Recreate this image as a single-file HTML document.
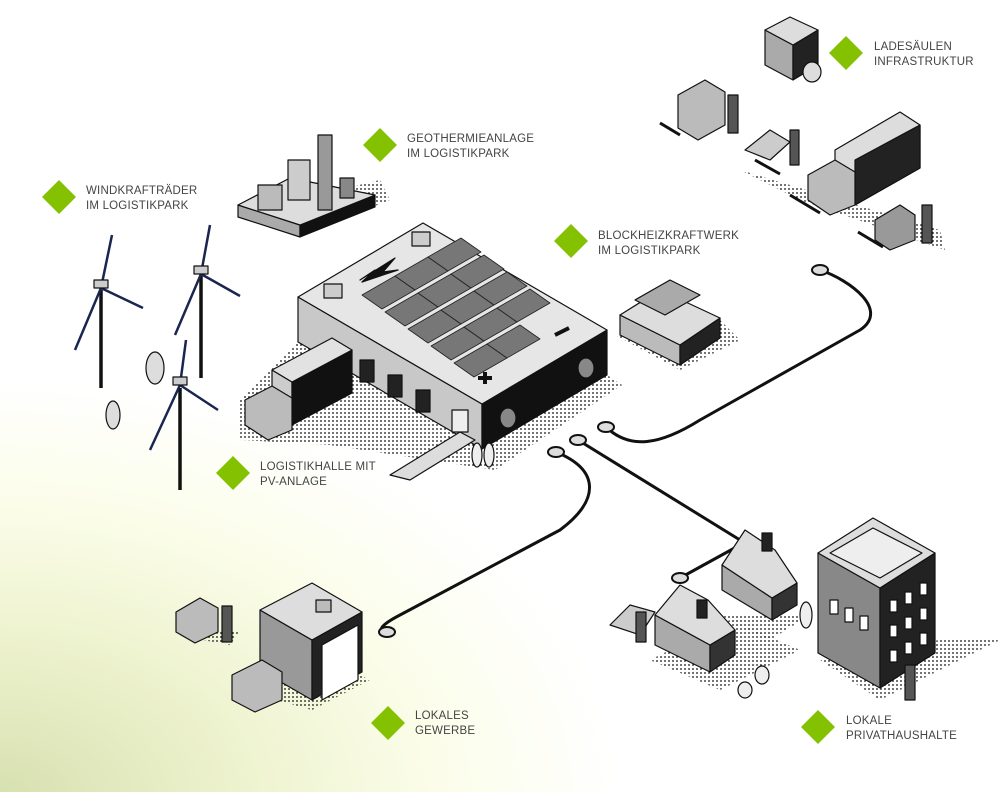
<!DOCTYPE html>
<html><head><meta charset="utf-8"><style>
html,body{margin:0;padding:0;}
body{width:1004px;height:792px;overflow:hidden;background:#fff;}
.bg{position:absolute;left:0;top:0;width:1004px;height:792px;background:radial-gradient(ellipse 620px 420px at 0px 800px,#d7e0b0 0%,#eef3cf 40%,#fbfde9 70%,rgba(255,255,255,0) 100%);}
svg{position:absolute;left:0;top:0;}
text{font-family:"Liberation Sans",sans-serif;font-size:11.5px;fill:#444;letter-spacing:0.2px;}
</style></head><body>
<div class="bg"></div>
<svg width="1004" height="792" viewBox="0 0 1004 792">
<defs>
<pattern id="d" width="4" height="4" patternUnits="userSpaceOnUse"><circle cx="1" cy="1" r="0.9" fill="#111"/></pattern>
</defs>
<g stroke="#111" stroke-width="1.2" stroke-linejoin="round">
<!-- shadows -->
<polygon points="298,342 482,449 607,375 622,385 495,470 330,445 240,440 240,400" fill="url(#d)" stroke="none"/>
<polygon points="235,215 300,235 390,200 380,180" fill="url(#d)" stroke="none"/>
<polygon points="615,335 680,370 740,340 720,320" fill="url(#d)" stroke="none"/>
<polygon points="740,170 940,230 945,250 800,200" fill="url(#d)" stroke="none"/>
<polygon points="820,660 880,700 1000,640 940,640" fill="url(#d)" stroke="none"/>
<polygon points="650,660 720,690 800,650 730,620" fill="url(#d)" stroke="none"/>
<polygon points="720,615 770,640 810,615" fill="url(#d)" stroke="none"/>
<polygon points="240,690 312,710 370,680 330,660" fill="url(#d)" stroke="none"/>
<polygon points="175,635 230,645 240,630" fill="url(#d)" stroke="none"/>

<!-- cables -->
<g fill="none" stroke="#111" stroke-width="3">
<path d="M606,427 C630,450 660,445 700,420 L860,330 C890,310 850,280 820,270"/>
<path d="M578,440 L740,540"/>
<path d="M556,452 C600,470 600,500 560,530 L400,615 C375,628 380,632 387,632"/>
<path d="M680,578 L740,545"/>
</g>
<g fill="#ddd" stroke="#111" stroke-width="2">
<ellipse cx="820" cy="270" rx="8" ry="5"/><ellipse cx="606" cy="427" rx="8" ry="5"/>
<ellipse cx="578" cy="440" rx="8" ry="5"/><ellipse cx="556" cy="452" rx="8" ry="5"/>
<ellipse cx="387" cy="632" rx="8" ry="5"/><ellipse cx="680" cy="578" rx="8" ry="5"/>
</g>

<!-- warehouse -->
<polygon points="298,297 482,404 482,449 298,342" fill="#c8c8c8"/>
<polygon points="482,404 607,330 607,375 482,449" fill="#111"/>
<polygon points="298,297 423,223 607,330 482,404" fill="#e6e6e6"/>
<g fill="#777" stroke="#222" stroke-width="0.8">
<polygon points="362,295 395,276 415,290 382,309"/><polygon points="395,276 428,257 448,271 415,290"/><polygon points="428,257 461,238 481,252 448,271"/>
<polygon points="385,312 418,293 438,307 405,326"/><polygon points="418,293 451,274 471,288 438,307"/><polygon points="451,274 484,255 504,269 471,288"/>
<polygon points="408,329 441,310 461,324 428,343"/><polygon points="441,310 474,291 494,305 461,324"/><polygon points="474,291 507,272 527,286 494,305"/>
<polygon points="431,346 464,327 484,341 451,360"/><polygon points="464,327 497,308 517,322 484,341"/><polygon points="497,308 530,289 550,303 517,322"/>
<polygon points="454,363 487,344 507,358 474,377"/><polygon points="487,344 520,325 540,339 507,358"/>
</g>
<polygon points="360,280 395,258 383,272 398,270 362,282 375,270" fill="#111"/>
<rect x="324" y="284" width="18" height="14" fill="#ccc"/><rect x="412" y="232" width="18" height="14" fill="#ccc"/>
<path d="M478,378 h14 M485,372 v12" stroke="#111" stroke-width="4"/>
<path d="M555,335 l14,-7" stroke="#111" stroke-width="4"/>
<ellipse cx="508" cy="418" rx="8" ry="10" fill="#888"/><ellipse cx="586" cy="368" rx="8" ry="10" fill="#888"/>
<g fill="#222"><rect x="360" y="360" width="14" height="22"/><rect x="388" y="375" width="14" height="22"/><rect x="416" y="390" width="14" height="22"/></g>
<rect x="452" y="410" width="16" height="22" fill="#eee"/>
<polygon points="390,475 460,432 475,440 410,480" fill="#ddd"/>
<!-- truck -->
<polygon points="272,370 292,382 292,425 272,413" fill="#ccc"/>
<polygon points="292,382 352,350 352,393 292,425" fill="#111"/>
<polygon points="272,370 332,338 352,350 292,382" fill="#e2e2e2"/>
<polygon points="245,400 272,386 292,398 292,430 268,440 245,425" fill="#bbb"/>
<text x="322" y="372" style="font-size:7px;fill:#ddd" transform="rotate(-28 322 372)">logistics</text>

<!-- turbines -->
<g stroke="#111" stroke-width="3.5"><line x1="101" y1="290" x2="101" y2="388"/><line x1="201" y1="276" x2="201" y2="378"/><line x1="180" y1="388" x2="180" y2="490"/></g>
<g stroke="#1a2650" stroke-width="2.5" fill="none">
<path d="M101,288 L112,235 M101,288 L75,350 M101,288 L143,308"/>
<path d="M201,274 L210,225 M201,274 L175,335 M201,274 L240,296"/>
<path d="M180,385 L186,340 M180,385 L150,450 M180,385 L218,410"/>
</g>
<g fill="#ccc"><rect x="94" y="280" width="14" height="8"/><rect x="194" y="266" width="14" height="8"/><rect x="173" y="377" width="14" height="8"/></g>
<ellipse cx="155" cy="368" rx="9" ry="16" fill="#ddd"/><ellipse cx="113" cy="415" rx="7" ry="14" fill="#ddd"/>
<ellipse cx="477" cy="455" rx="5" ry="12" fill="#eee"/><ellipse cx="489" cy="455" rx="5" ry="12" fill="#eee"/>

<!-- geothermie -->
<polygon points="238,205 300,225 300,237 238,217" fill="#aaa"/>
<polygon points="300,225 375,195 375,207 300,237" fill="#111"/>
<polygon points="238,205 290,178 375,195 300,225" fill="#ddd"/>
<rect x="318" y="135" width="14" height="75" fill="#999"/><rect x="288" y="160" width="22" height="40" fill="#ccc"/>
<rect x="258" y="185" width="24" height="25" fill="#bbb"/><rect x="340" y="178" width="14" height="20" fill="#888"/>

<!-- BHKW -->
<polygon points="620,315 680,345 680,365 620,335" fill="#bbb"/>
<polygon points="680,345 720,318 720,338 680,365" fill="#222"/>
<polygon points="620,315 660,290 720,318 680,345" fill="#ddd"/>
<polygon points="635,300 670,280 700,295 665,315" fill="#aaa"/>

<!-- ladesäulen area -->
<polygon points="765,30 793,45 793,80 765,65" fill="#aaa"/><polygon points="793,45 818,30 818,65 793,80" fill="#222"/>
<polygon points="765,30 790,17 818,30 793,45" fill="#ddd"/>
<ellipse cx="812" cy="72" rx="9" ry="10" fill="#ddd"/>
<polygon points="678,95 705,80 725,92 725,125 698,140 678,128" fill="#bbb"/><rect x="728" y="95" width="10" height="38" fill="#555"/>
<polygon points="745,150 770,130 790,142 770,160" fill="#ccc"/><rect x="790" y="130" width="9" height="35" fill="#555"/>
<polygon points="835,150 900,112 920,125 920,168 855,205 835,193" fill="#ddd"/>
<polygon points="855,160 920,125 920,168 855,205" fill="#222"/>
<polygon points="808,175 835,160 855,172 855,205 830,215 808,200" fill="#bbb"/>
<polygon points="875,220 900,205 915,215 915,240 890,250 875,240" fill="#999"/><rect x="922" y="205" width="10" height="38" fill="#555"/>
<g stroke-width="3" fill="none"><path d="M660,123 l20,12 M755,160 l25,14 M790,195 l30,18 M858,232 l25,15"/></g>

<!-- apartment -->
<polygon points="818,553 880,588 880,688 818,653" fill="#888"/>
<polygon points="880,588 935,553 935,653 880,688" fill="#222"/>
<polygon points="818,553 873,518 935,553 880,588" fill="#ddd"/>
<polygon points="830,553 873,528 922,553 880,578" fill="#eee"/>
<g fill="#fff" stroke="#111"><rect x="890" y="600" width="7" height="12"/><rect x="905" y="592" width="7" height="12"/><rect x="920" y="583" width="7" height="12"/><rect x="890" y="625" width="7" height="12"/><rect x="905" y="617" width="7" height="12"/><rect x="920" y="608" width="7" height="12"/><rect x="890" y="650" width="7" height="12"/><rect x="905" y="642" width="7" height="12"/><rect x="920" y="633" width="7" height="12"/>
<rect x="830" y="600" width="8" height="14"/><rect x="845" y="608" width="8" height="14"/><rect x="860" y="616" width="8" height="14"/></g>
<rect x="905" y="665" width="10" height="35" fill="#555"/>
<!-- houses -->
<polygon points="722,565 772,598 772,620 722,590" fill="#aaa"/><polygon points="772,598 797,583 797,605 772,620" fill="#333"/>
<polygon points="722,565 745,530 775,550 797,583 772,598" fill="#ddd"/>
<polygon points="655,615 710,645 710,672 655,645" fill="#aaa"/><polygon points="710,645 735,630 735,655 710,672" fill="#333"/>
<polygon points="655,615 680,585 708,600 735,630 710,645" fill="#ddd"/>
<rect x="762" y="533" width="10" height="18" fill="#222"/><rect x="697" y="600" width="10" height="18" fill="#222"/>
<polygon points="610,625 630,605 655,612 640,635" fill="#ccc"/><rect x="636" y="612" width="10" height="30" fill="#555"/>
<ellipse cx="806" cy="615" rx="6" ry="13" fill="#eee"/><ellipse cx="745" cy="690" rx="7" ry="8" fill="#eee"/><ellipse cx="762" cy="675" rx="7" ry="9" fill="#eee"/>

<!-- gewerbe -->
<polygon points="260,610 312,640 312,700 260,670" fill="#999"/>
<polygon points="312,640 362,612 362,672 312,700" fill="#222"/>
<polygon points="260,610 312,583 362,612 312,640" fill="#ddd"/>
<polygon points="322,645 358,625 358,680 322,700" fill="#fff"/>
<rect x="316" y="600" width="15" height="12" fill="#bbb"/>
<polygon points="232,675 262,660 282,672 282,700 255,712 232,700" fill="#bbb"/>
<polygon points="176,612 200,598 218,608 218,632 195,643 176,632" fill="#bbb"/><rect x="222" y="606" width="10" height="36" fill="#555"/>
</g>

<!-- labels -->
<g fill="#84c100">
<polygon points="59,180 76,197 59,214 42,197"/>
<polygon points="380,128 397,145 380,162 363,145"/>
<polygon points="571,224 588,241 571,258 554,241"/>
<polygon points="846,36 863,53 846,70 829,53"/>
<polygon points="233,456 250,473 233,490 216,473"/>
<polygon points="388,706 405,723 388,740 371,723"/>
<polygon points="818,710 835,727 818,744 801,727"/>
</g>
<text x="86" y="194">WINDKRAFTRÄDER</text><text x="86" y="209">IM LOGISTIKPARK</text>
<text x="407" y="142">GEOTHERMIEANLAGE</text><text x="407" y="157">IM LOGISTIKPARK</text>
<text x="598" y="239">BLOCKHEIZKRAFTWERK</text><text x="598" y="254">IM LOGISTIKPARK</text>
<text x="874" y="50">LADESÄULEN</text><text x="874" y="65">INFRASTRUKTUR</text>
<text x="260" y="470">LOGISTIKHALLE MIT</text><text x="260" y="485">PV-ANLAGE</text>
<text x="415" y="719">LOKALES</text><text x="415" y="734">GEWERBE</text>
<text x="846" y="724">LOKALE</text><text x="846" y="739">PRIVATHAUSHALTE</text>
</svg>
</body></html>
